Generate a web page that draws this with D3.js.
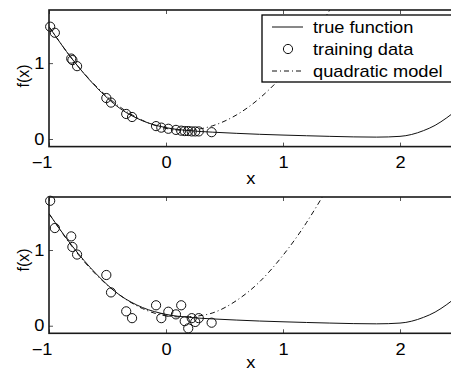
<!DOCTYPE html>
<html>
<head>
<meta charset="utf-8">
<script src="https://cdn.jsdelivr.net/npm/d3@7"></script>
<style>
  body { margin: 0; background: #fff; }
  text { font-family: "Liberation Sans", Arial, Helvetica, sans-serif; }
</style>
</head>
<body>
<div id="chart"></div>
<script>
// tick labels
const xTicks = [-1, 0, 1, 2];
const yTicks = [0, 1];

// true function
const trueX = [-1, -0.8, -0.6, -0.4, -0.2, 0, 0.2, 0.4, 0.6, 0.8, 1.0, 1.2, 1.4, 1.6, 1.8, 2.0, 2.1, 2.2, 2.3, 2.4, 2.5];
const trueY = [1.48, 1.05, 0.69, 0.41, 0.24, 0.15, 0.11, 0.09, 0.075, 0.062, 0.052, 0.043, 0.035, 0.028, 0.025, 0.035, 0.06, 0.11, 0.18, 0.28, 0.40];

// training inputs and outputs (top: clean, bottom: noisy)
const trainX = [-0.99, -0.95, -0.81, -0.80, -0.76, -0.51, -0.47, -0.34, -0.29, -0.085, -0.04, 0.02, 0.085, 0.13, 0.16, 0.19, 0.22, 0.25, 0.28, 0.39];
const cleanY = [1.48, 1.40, 1.06, 1.04, 0.96, 0.54, 0.48, 0.33, 0.29, 0.17, 0.15, 0.135, 0.12, 0.11, 0.105, 0.105, 0.10, 0.10, 0.10, 0.09];
const noisyY = [1.65, 1.29, 1.18, 1.04, 0.94, 0.67, 0.44, 0.19, 0.10, 0.27, 0.10, 0.185, 0.15, 0.27, 0.06, -0.035, 0.10, 0.05, 0.10, 0.04];

// quadratic model fitted in each panel
const modelX = [-1, -0.8, -0.6, -0.4, -0.2, 0, 0.2, 0.4, 0.6, 0.8, 1.0, 1.2, 1.4, 1.5];
const modelTopY = [1.48, 1.05, 0.70, 0.43, 0.245, 0.14, 0.117, 0.175, 0.315, 0.537, 0.84, 1.225, 1.70, 1.955];
const modelBotY = [1.48, 1.04, 0.68, 0.41, 0.226, 0.13, 0.12, 0.17, 0.33, 0.58, 0.93, 1.36, 1.87, 2.15];

const legendItems = ["true function", "training data", "quadratic model"];

const W = 451, H = 369;
const sx = 1.14; // text in the picture is a little wider than tall

const svg = d3.select("#chart")
  .append("svg")
  .attr("width", W)
  .attr("height", H);

const x = d3.scaleLinear().domain([-1, 2.5]).range([49, 458.5]);

const panels = [
  {top: 10, bottom: 146.6, pts: cleanY, model: modelTopY, labelY: 76, xlab: 184, legend: true},
  {top: 197, bottom: 333.3, pts: noisyY, model: modelBotY, labelY: 260, xlab: 368, legend: false}
];

panels.forEach(function(p, i) {
  const y = d3.scaleLinear().domain([-0.1, 1.7]).range([p.bottom, p.top]);
  const g = svg.append("g");

  g.append("clipPath").attr("id", "clip" + i)
    .append("rect")
    .attr("x", x(-1)).attr("y", p.top)
    .attr("width", x(2.5) - x(-1)).attr("height", p.bottom - p.top);

  const plot = g.append("g").attr("clip-path", `url(#clip${i})`);

  const line = d3.line().x(d => x(d[0])).y(d => y(d[1]));

  plot.append("path")
    .datum(d3.zip(modelX, p.model))
    .attr("d", line.curve(d3.curveNatural))
    .attr("fill", "none")
    .attr("stroke", "#111")
    .attr("stroke-width", 1)
    .attr("stroke-dasharray", "5,3,1,3");

  plot.append("path")
    .datum(d3.zip(trueX, trueY))
    .attr("d", line.curve(d3.curveMonotoneX))
    .attr("fill", "none")
    .attr("stroke", "#111")
    .attr("stroke-width", 1);

  g.selectAll(".pt")
    .data(d3.zip(trainX, p.pts))
    .enter()
    .append("circle")
    .attr("cx", d => x(d[0]))
    .attr("cy", d => y(d[1]))
    .attr("r", 4.6)
    .attr("fill", "none")
    .attr("stroke", "#111")
    .attr("stroke-width", 1);

  // axes: ticks point inside
  const fmt = d3.format("d");
  const xb = g.append("g")
    .attr("transform", `translate(0,${p.bottom})`)
    .call(d3.axisBottom(x).tickValues(xTicks).tickSize(-4).tickPadding(10).tickFormat(fmt));
  const xt = g.append("g")
    .attr("transform", `translate(0,${p.top})`)
    .call(d3.axisTop(x).tickValues(xTicks).tickSize(-4).tickFormat(""));
  const yl = g.append("g")
    .attr("transform", `translate(${x(-1)},0)`)
    .call(d3.axisLeft(y).tickValues(yTicks).tickSize(-4).tickPadding(4).tickFormat(fmt));

  [xb, xt, yl].forEach(a => {
    a.select(".domain").remove();
    a.selectAll(".tick line").attr("stroke", "#555");
    a.selectAll("text")
      .attr("font-family", "Liberation Sans, Arial, sans-serif")
      .attr("font-size", 16)
      .attr("fill", "#000")
      .attr("transform", `scale(${sx},1)`);
  });
  xb.selectAll(".tick text").filter(d => d === -1).attr("dx", -6.5);

  g.append("rect")
    .attr("x", x(-1)).attr("y", p.top)
    .attr("width", x(2.5) - x(-1)).attr("height", p.bottom - p.top)
    .attr("fill", "none")
    .attr("stroke", "#1a1a1a")
    .attr("stroke-width", 1.6);

  g.append("text")
    .attr("transform", `translate(${(x(-1) + x(2.5)) / 2 - 3},${p.xlab}) scale(${sx},1)`)
    .attr("text-anchor", "middle")
    .attr("font-size", 16)
    .text("x");

  g.append("text")
    .attr("transform", `translate(29,${p.labelY}) rotate(-90)`)
    .attr("text-anchor", "middle")
    .attr("font-size", 16)
    .text("f(x)");

  if (p.legend) {
    const lg = g.append("g");
    lg.append("rect")
      .attr("x", 262).attr("y", 15)
      .attr("width", 192).attr("height", 67)
      .attr("fill", "#fff")
      .attr("stroke", "#000")
      .attr("stroke-width", 1.3);
    legendItems.forEach(function(name, k) {
      const cy = 27 + k * 22;
      if (k === 0) {
        lg.append("line").attr("x1", 272).attr("x2", 303).attr("y1", cy).attr("y2", cy)
          .attr("stroke", "#111").attr("stroke-width", 1);
      } else if (k === 1) {
        lg.append("circle").attr("cx", 288).attr("cy", cy).attr("r", 4.6)
          .attr("fill", "none").attr("stroke", "#111").attr("stroke-width", 1);
      } else {
        lg.append("line").attr("x1", 272).attr("x2", 303).attr("y1", cy).attr("y2", cy)
          .attr("stroke", "#111").attr("stroke-width", 1).attr("stroke-dasharray", "5,3,1,3");
      }
      lg.append("text")
        .attr("transform", `translate(313,${cy + 6}) scale(${sx},1)`)
        .attr("font-size", 16)
        .text(name);
    });
  }
});
</script>
</body>
</html>
